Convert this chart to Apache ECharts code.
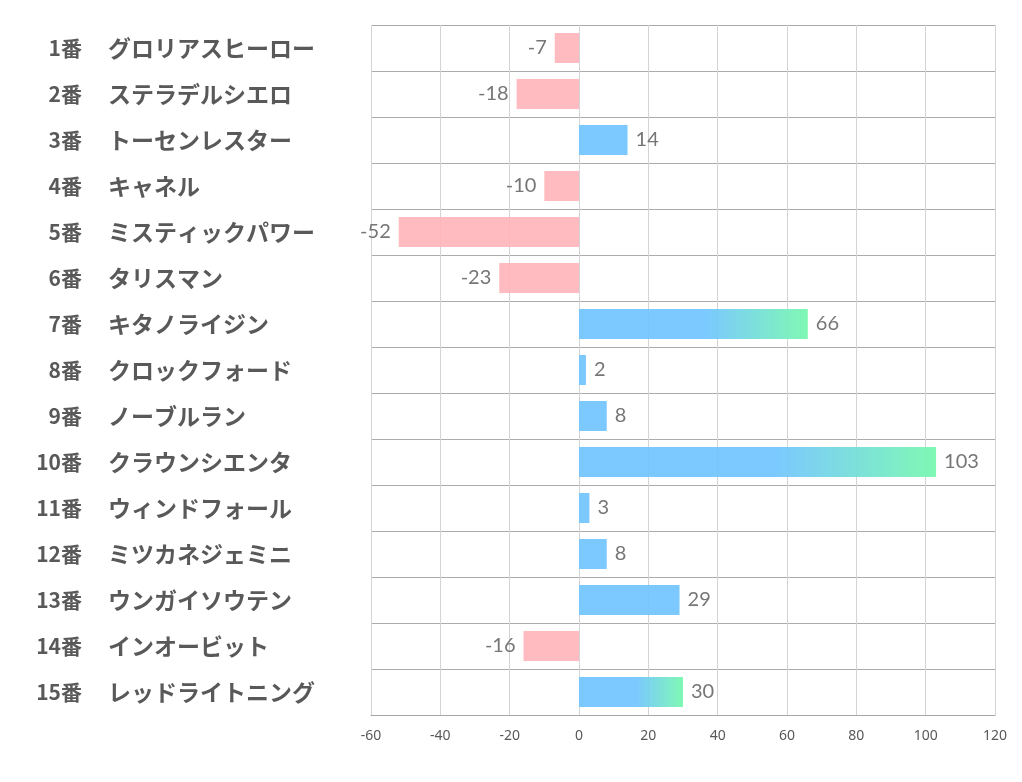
<!DOCTYPE html>
<html><head><meta charset="utf-8">
<script src="https://cdn.jsdelivr.net/npm/echarts@6/dist/echarts.min.js"></script>
<style>html,body{margin:0;padding:0;background:#fff;}#c{width:1022px;height:782px;}</style>
</head><body><div id="c"></div>
<script>
const numbers = ['1番','2番','3番','4番','5番','6番','7番','8番','9番','10番','11番','12番','13番','14番','15番'];
const names = ['グロリアスヒーロー','ステラデルシエロ','トーセンレスター','キャネル','ミスティックパワー','タリスマン','キタノライジン','クロックフォード','ノーブルラン','クラウンシエンタ','ウィンドフォール','ミツカネジェミニ','ウンガイソウテン','インオービット','レッドライトニング'];
const values = [-7, -18, 14, -10, -52, -23, 66, 2, 8, 103, 3, 8, 29, -16, 30];
const xTicks = [-60, 120, 20];

const top3 = values.slice().sort((a,b)=>b-a).slice(0,3);
const BLUE = 'rgba(112,196,255,0.92)';
const GREEN = 'rgba(120,248,176,0.95)';
const PINK = 'rgba(255,180,184,0.9)';
const labelFont = {fontFamily:'Lato, "Noto Sans CJK JP", sans-serif', fontSize:20, color:'#767676'};
const data = values.map(v => {
  let color;
  if (v < 0) color = PINK;
  else if (top3.includes(v)) color = new echarts.graphic.LinearGradient(0,0,1,0,[
    {offset:0,color:BLUE},{offset:0.55,color:BLUE},{offset:1,color:GREEN}]);
  else color = BLUE;
  return {value:v, itemStyle:{color}, label:Object.assign({show:true, position: v<0?'left':'right', distance:8}, labelFont)};
});
const yLabelStyle = {fontWeight:'bold', color:'#595959', fontFamily:'"Noto Sans CJK JP", sans-serif'};
const chart = echarts.init(document.getElementById('c'));
chart.setOption({
  animation:false,
  grid:{left:371, right:27, top:25, bottom:67, containLabel:false},
  xAxis:{type:'value', min:xTicks[0], max:xTicks[1], interval:xTicks[2],
    axisLine:{show:true, onZero:false, lineStyle:{color:'#a6a6a6'}},
    axisTick:{show:false},
    axisLabel:{color:'#595959', fontSize:14, fontFamily:'"Noto Sans", sans-serif', margin:14},
    splitLine:{show:true, lineStyle:{color:'#d4d4d4'}}},
  yAxis:[
    {type:'category', inverse:true, data:names, position:'left',
      axisLine:{show:false}, axisTick:{show:false},
      splitLine:{show:true, lineStyle:{color:'#ababab'}},
      axisLabel:Object.assign({margin:263, align:'left', fontSize:23}, yLabelStyle)},
    {type:'category', inverse:true, data:numbers, position:'left',
      axisLine:{show:false}, axisTick:{show:false}, splitLine:{show:false},
      axisLabel:Object.assign({margin:289, align:'right', fontSize:21}, yLabelStyle)}
  ],
  series:[{type:'bar', data, barWidth:30, yAxisIndex:0}]
});
</script></body></html>
